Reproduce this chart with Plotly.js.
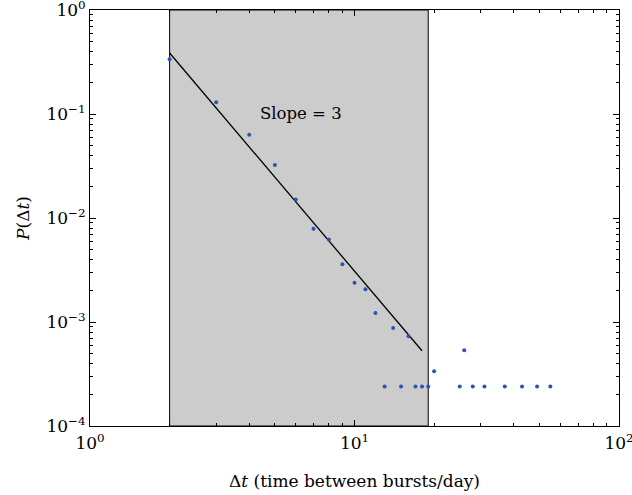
<!DOCTYPE html>
<html>
<head>
<meta charset="utf-8">
<script src="https://cdn.plot.ly/plotly-3.0.1.min.js"></script>
<style>html,body{margin:0;padding:0;background:#fff;}#chart{width:632px;height:495px;}</style>
</head>
<body>
<div id="chart"></div>
<script>
// Observed inter-burst interval distribution
const dtValues = [2, 3, 4, 5, 6, 7, 8, 9, 10, 11, 12, 14, 16,
                  13, 15, 17, 18, 19, 20, 25, 26, 28, 31, 37, 43, 49, 55];
const probValues = [0.336, 0.130, 0.0632, 0.0323, 0.0151, 0.0079, 0.0062, 0.00359, 0.00239, 0.00206, 0.00122, 0.000875, 0.00073,
                    0.00024, 0.00024, 0.00024, 0.00024, 0.00024, 0.000336, 0.00024, 0.000535, 0.00024, 0.00024, 0.00024, 0.00024, 0.00024, 0.00024];
// Power-law fit (slope 3)
const fitX = [2, 18];
const fitY = [0.386, 0.000529];
// Fit window
const shadeRange = [2, 19];
const slopeLabel = 'Slope = 3';
const slopePos = [6.3, 0.102];
// Ticks
const xTickVals = [1, 10, 100];
const xTickText = ['10<sup>0</sup>', '10<sup>1</sup>', '10<sup>2</sup>'];
const yTickVals = [1e-4, 1e-3, 1e-2, 1e-1, 1];
const yTickText = ['10<sup>−4</sup>', '10<sup>−3</sup>', '10<sup>−2</sup>', '10<sup>−1</sup>', '10<sup>0</sup>'];

function minorVals(lo, hi) {
  const v = [];
  for (let e = lo; e < hi; e++) for (let m = 2; m <= 9; m++) v.push(m * Math.pow(10, e));
  return v;
}

const tickFont = {family: 'DejaVu Serif, serif', size: 17, color: '#000'};
const titleFont = {family: 'DejaVu Serif, serif', size: 17, color: '#000'};

const traces = [
  {x: fitX, y: fitY, mode: 'lines', line: {color: '#000', width: 1.3}, hoverinfo: 'skip'},
  {x: dtValues, y: probValues, mode: 'markers', marker: {color: '#2f50b4', size: 4}}
];

const layout = {
  width: 632, height: 495,
  margin: {l: 90, r: 13, t: 10, b: 69},
  paper_bgcolor: '#fff', plot_bgcolor: '#fff',
  showlegend: false,
  font: tickFont,
  xaxis: {
    type: 'log', range: [0, 2],
    tickmode: 'array', tickvals: xTickVals, ticktext: xTickText,
    ticks: 'inside', ticklen: 6, tickcolor: '#000',
    minor: {tickmode: 'array', tickvals: minorVals(0, 2), ticks: 'inside', ticklen: 3, tickcolor: '#000'},
    showgrid: false, zeroline: false,
    showline: true, linecolor: '#000', linewidth: 1, mirror: 'ticks',
    tickfont: tickFont, ticklabelstandoff: 2, ticklabeloverflow: 'allow',
    title: {text: 'Δ<i>t</i> (time between bursts/day)', font: titleFont, standoff: 22}
  },
  yaxis: {
    type: 'log', range: [-4, 0],
    tickmode: 'array', tickvals: yTickVals, ticktext: yTickText,
    ticks: 'inside', ticklen: 6, tickcolor: '#000',
    minor: {tickmode: 'array', tickvals: minorVals(-4, 0), ticks: 'inside', ticklen: 3, tickcolor: '#000'},
    showgrid: false, zeroline: false,
    showline: true, linecolor: '#000', linewidth: 1, mirror: 'ticks',
    tickfont: tickFont, ticklabeloverflow: 'allow',
    title: {text: '<i>P</i>(Δ<i>t</i>)', font: titleFont, standoff: 12}
  },
  shapes: [{
    type: 'rect', xref: 'x', yref: 'paper',
    x0: shadeRange[0], x1: shadeRange[1], y0: 0, y1: 1,
    fillcolor: '#cccccc', line: {color: '#000', width: 1}, layer: 'below'
  }],
  annotations: [{
    text: slopeLabel, xref: 'x', yref: 'y',
    x: Math.log10(slopePos[0]), y: Math.log10(slopePos[1]),
    showarrow: false, font: {family: 'DejaVu Serif, serif', size: 16.5, color: '#000'}
  }]
};

Plotly.newPlot('chart', traces, layout, {displayModeBar: false, staticPlot: true});
</script>
</body>
</html>
